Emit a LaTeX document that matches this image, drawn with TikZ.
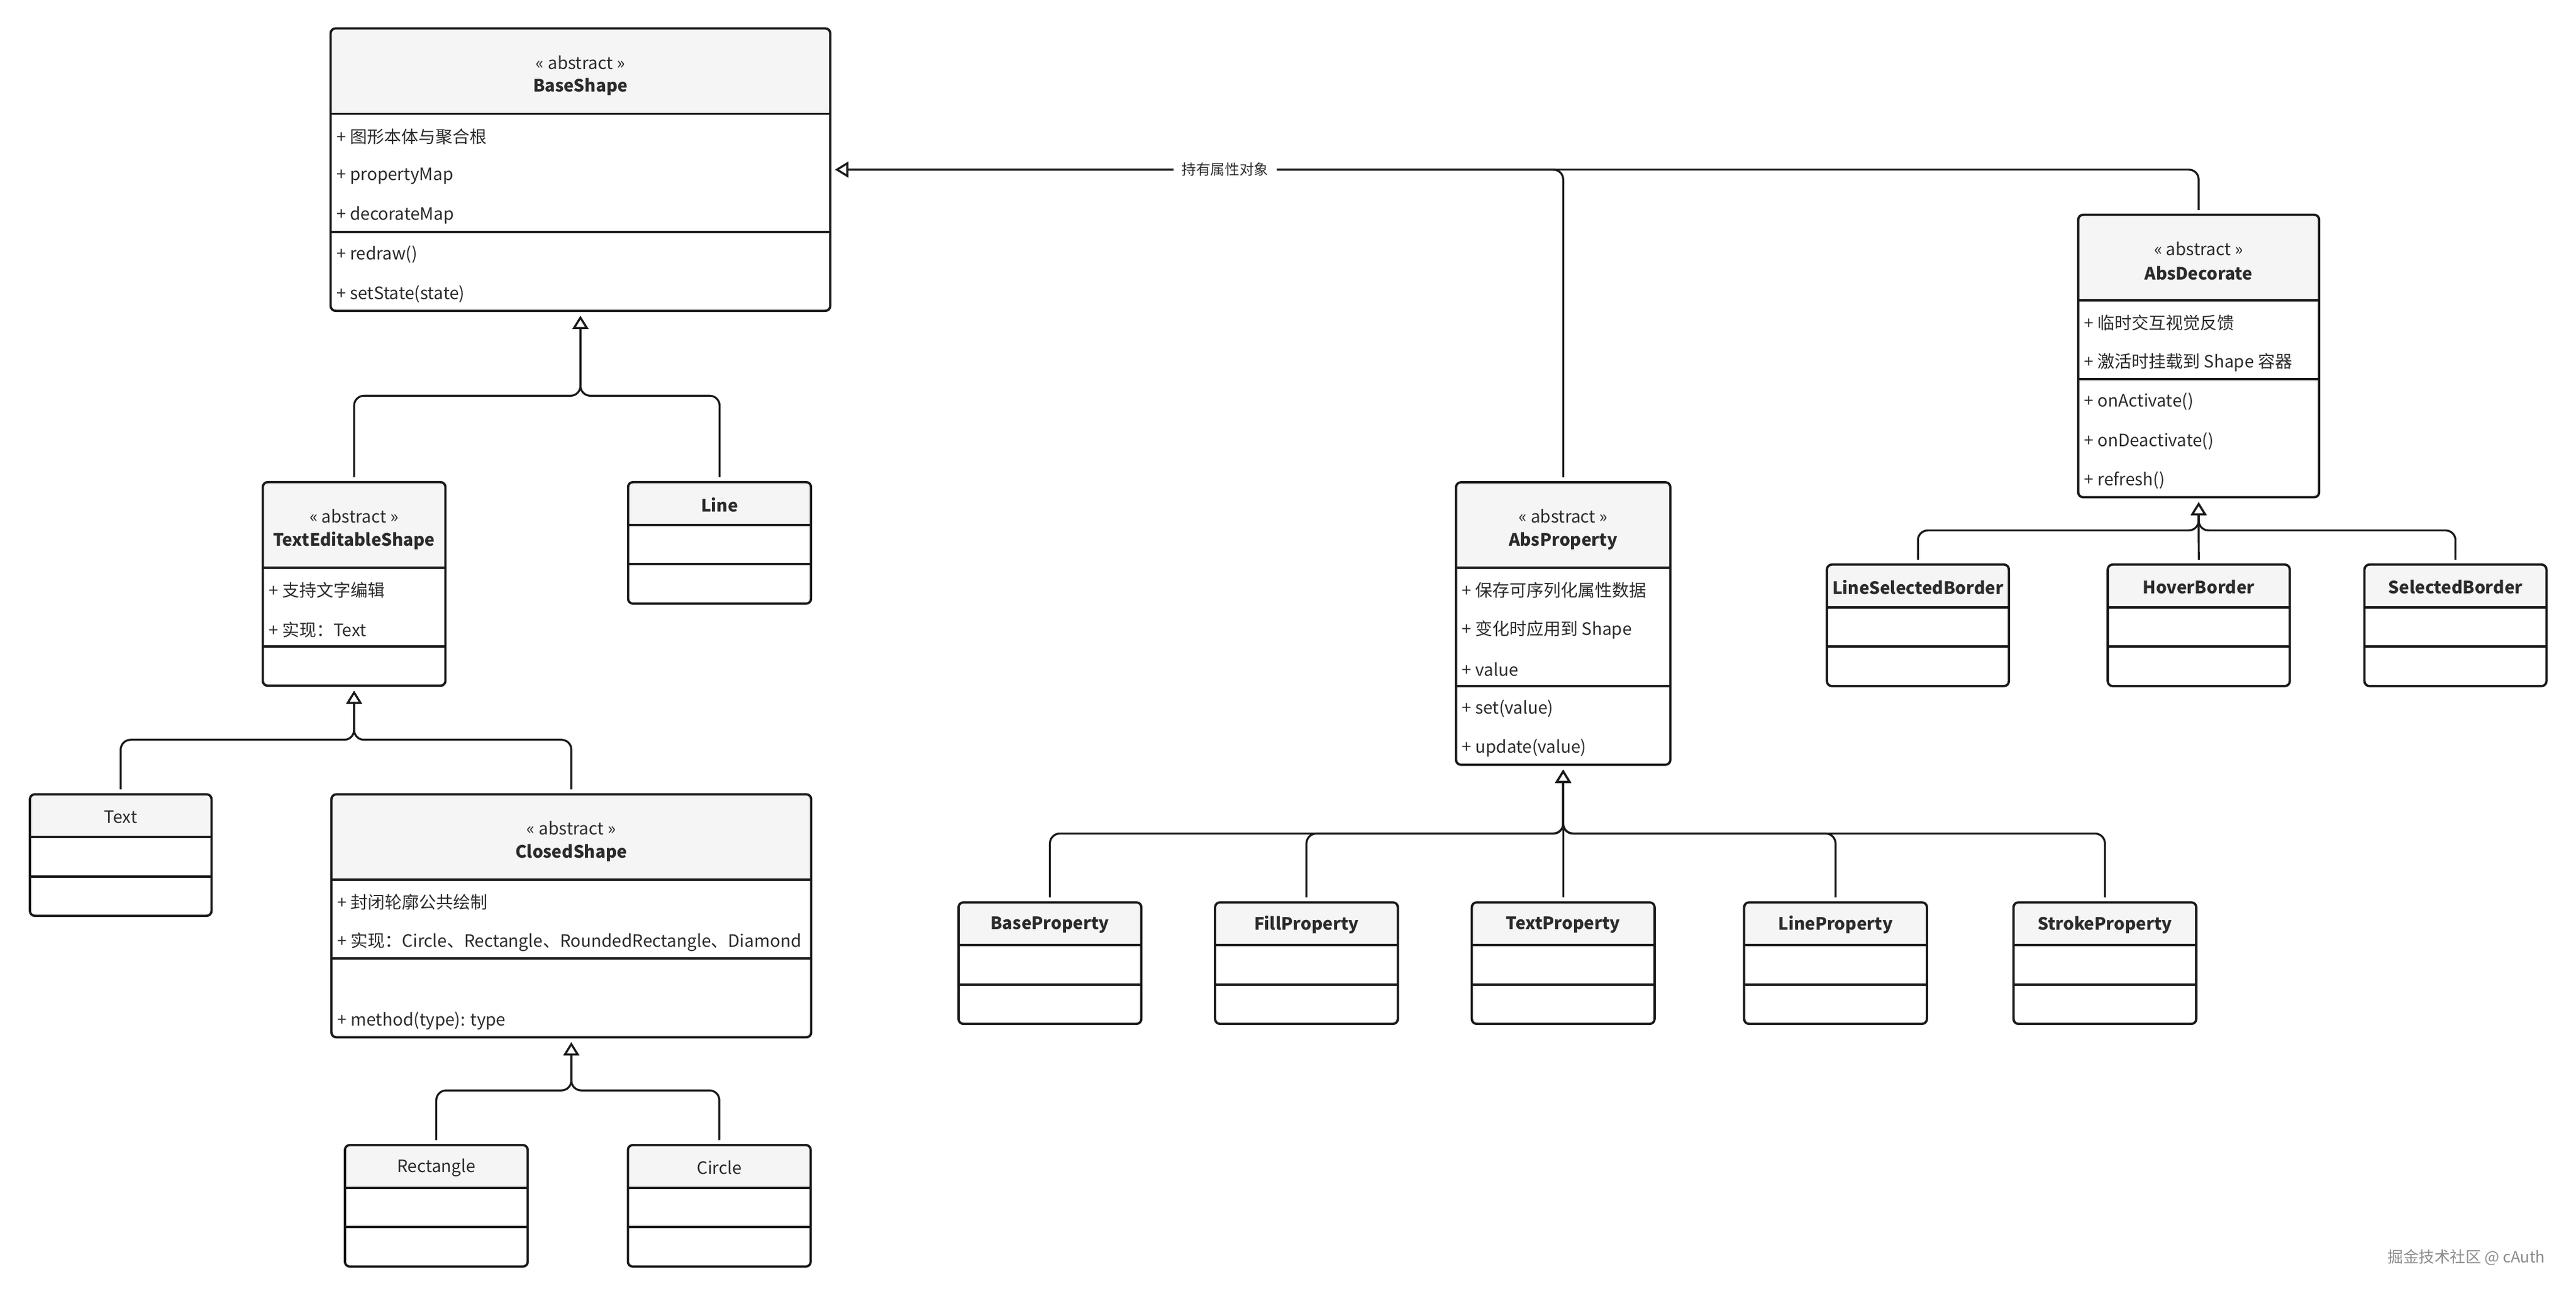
\documentclass[tikz,border=0pt]{standalone}
\usepackage{fontspec}
\setmainfont{Noto Sans CJK SC}
\usetikzlibrary{arrows.meta}

\definecolor{umlline}{HTML}{1A1A1A}
\definecolor{umltext}{HTML}{2B2B2B}
\definecolor{umlhead}{HTML}{F5F5F5}

\tikzset{
  classbox/.style={draw=umlline, line width=1.4pt, rounded corners=3pt, fill=white,
    outer sep=3pt, inner sep=0pt},
  headfill/.style={path picture={\fill[umlhead] (path picture bounding box.north west)
    rectangle ([yshift=-#1pt]path picture bounding box.north east);}},
  divider/.style={draw=umlline, line width=1.4pt},
  member/.style={anchor=west, inner sep=0pt, text=umltext, font=\fontsize{10.4}{12}\selectfont},
  stereo/.style={inner sep=0pt, text=umltext, font=\fontsize{10.4}{12}\selectfont},
  cname/.style={inner sep=0pt, text=umltext, font=\fontsize{10.4}{12}\selectfont\bfseries},
  cplain/.style={inner sep=0pt, text=umltext, font=\fontsize{10.4}{12}\selectfont},
  isa/.style={draw=umlline, line width=1.2pt, rounded corners=6pt,
    -{Triangle[open, length=8pt, width=9.5pt, fill=white]}},
  assoc/.style={isa},
  lbl/.style={fill=white, text=umltext, inner xsep=5pt, inner ysep=2pt,
    font=\fontsize{8.8}{10}\selectfont},
  wmark/.style={inner sep=0pt, text=black!45, font=\fontsize{9.5}{11}\selectfont},
}

% box: name, left, top, width, header height, second divider, height
\newcommand{\umlbox}[7]{%
  \node[classbox, headfill=#5, minimum width=#4pt, minimum height=#7pt] (#1) at (#2+#4/2, #3+#7/2) {};
  \draw[divider] (#2,#3+#5) -- ++(#4,0);
  \draw[divider] (#2,#3+#6) -- ++(#4,0);
}
% rows: prefix, left, first row, list
\newcommand{\umlrows}[4]{%
  \foreach \m [count=\i] in {#4} {\node[member] (#1\i) at (#2+3.5, #3+24*\i-24) {\m};}
}

\begin{document}
\begin{tikzpicture}[x=1pt, y=-1pt]
  \useasboundingbox (0,0) rectangle (1568.4,788.9);
  \fill[white] (0,0) rectangle (1568.4,788.9);

  % shape tree
  \umlbox{base}{201.3}{17.3}{304.2}{52}{124}{172}
  \node[stereo] (baseS) at (353.4,38) {« abstract »};
  \node[cname] (baseN) at (353.4,53) {BaseShape};
  \umlrows{baseA}{201.3}{83.1}{{+ 图形本体与聚合根}, {+ propertyMap}, {+ decorateMap}}
  \umlrows{baseO}{201.3}{155.1}{{+ redraw()}, {+ setState(state)}}

  \umlbox{txtedit}{160}{293.6}{111.2}{52}{100}{124}
  \node[stereo] (txteditS) at (215.6,314.3) {« abstract »};
  \node[cname] (txteditN) at (215.6,329.3) {TextEditableShape};
  \umlrows{txteditA}{160}{359.4}{{+ 支持文字编辑}, {+ 实现：Text}}

  \umlbox{line}{382.4}{293.6}{111.4}{26}{50}{74}
  \node[cname] (lineN) at (438.1,307.3) {Line};

  \umlbox{text}{18.2}{483.7}{110.6}{26}{50}{74}
  \node[cplain] (textN) at (73.5,497.4) {Text};

  \umlbox{closed}{201.8}{483.7}{292.1}{52}{100}{148}
  \node[stereo] (closedS) at (347.85,504.4) {« abstract »};
  \node[cname] (closedN) at (347.85,519.4) {ClosedShape};
  \umlrows{closedA}{201.8}{549.5}{{+ 封闭轮廓公共绘制}, {+ 实现：Circle、Rectangle、RoundedRectangle、Diamond}}
  \node[member] (closedO2) at (205.3,621.5) {+ method(type): type};

  \umlbox{rect}{210}{697.3}{111.3}{26}{50}{74}
  \node[cplain] (rectN) at (265.65,711) {Rectangle};
  \umlbox{circle}{382.3}{697.3}{111.3}{26}{50}{74}
  \node[cplain] (circleN) at (437.95,711) {Circle};

  % properties
  \umlbox{absprop}{886.5}{293.7}{130.5}{52}{124}{172}
  \node[stereo] (abspropS) at (951.75,314.4) {« abstract »};
  \node[cname] (abspropN) at (951.75,329.4) {AbsProperty};
  \umlrows{abspropA}{886.5}{359.5}{{+ 保存可序列化属性数据}, {+ 变化时应用到 Shape}, {+ value}}
  \umlrows{abspropO}{886.5}{431.5}{{+ set(value)}, {+ update(value)}}

  \umlbox{baseprop}{583.6}{549.5}{111.3}{26}{50}{74}
  \node[cname] (basepropN) at (639.25,563.2) {BaseProperty};
  \umlbox{fillprop}{739.8}{549.5}{111.3}{26}{50}{74}
  \node[cname] (fillpropN) at (795.45,563.2) {FillProperty};
  \umlbox{textprop}{896.1}{549.5}{111.3}{26}{50}{74}
  \node[cname] (textpropN) at (951.75,563.2) {TextProperty};
  \umlbox{lineprop}{1061.9}{549.5}{111.3}{26}{50}{74}
  \node[cname] (linepropN) at (1117.55,563.2) {LineProperty};
  \umlbox{strokeprop}{1225.9}{549.5}{111.3}{26}{50}{74}
  \node[cname] (strokepropN) at (1281.55,563.2) {StrokeProperty};

  % decorates
  \umlbox{absdeco}{1265.3}{130.8}{146.7}{52}{100}{172}
  \node[stereo] (absdecoS) at (1338.65,151.5) {« abstract »};
  \node[cname] (absdecoN) at (1338.65,166.5) {AbsDecorate};
  \umlrows{absdecoA}{1265.3}{196.6}{{+ 临时交互视觉反馈}, {+ 激活时挂载到 Shape 容器}}
  \umlrows{absdecoO}{1265.3}{244.6}{{+ onActivate()}, {+ onDeactivate()}, {+ refresh()}}

  \umlbox{lsborder}{1112.3}{343.8}{110.8}{26}{50}{74}
  \node[cname] (lsborderN) at (1167.7,357.5) {LineSelectedBorder};
  \umlbox{hoverborder}{1283.3}{343.8}{110.8}{26}{50}{74}
  \node[cname] (hoverborderN) at (1338.7,357.5) {HoverBorder};
  \umlbox{selborder}{1439.6}{343.8}{110.8}{26}{50}{74}
  \node[cname] (selborderN) at (1495,357.5) {SelectedBorder};

  % inheritance
  \path (353.4,241) coordinate (J1);
  \path (215.6,450.5) coordinate (J2);
  \path (347.85,664) coordinate (J3);
  \path (951.75,507.6) coordinate (J4);
  \path (1338.65,323) coordinate (J5);

  \draw[isa] (txtedit.north) |- (J1) -- (base.south);
  \draw[isa] (line.north) |- (J1) -- (base.south);

  \draw[isa] (text.north) |- (J2) -- (txtedit.south);
  \draw[isa] (closed.north) |- (J2) -- (txtedit.south);

  \draw[isa] (rect.north) |- (J3) -- (closed.south);
  \draw[isa] (circle.north) |- (J3) -- (closed.south);

  \draw[isa] (baseprop.north) |- (J4) -- (absprop.south);
  \draw[isa] (fillprop.north) |- (J4) -- (absprop.south);
  \draw[isa] (textprop.north) -- (absprop.south);
  \draw[isa] (lineprop.north) |- (J4) -- (absprop.south);
  \draw[isa] (strokeprop.north) |- (J4) -- (absprop.south);

  \draw[isa] (lsborder.north) |- (J5) -- (absdeco.south);
  \draw[isa] (hoverborder.north) -- (absdeco.south);
  \draw[isa] (selborder.north) |- (J5) -- (absdeco.south);

  % association
  \draw[assoc] (absprop.north) |- (base.east);
  \draw[assoc] (absdeco.north) |- node[lbl, pos=0.857] (holdlbl) {持有属性对象} (base.east);

  \node[wmark, anchor=east] (wm) at (1549.8,765.8) {掘金技术社区 @ cAuth};
\end{tikzpicture}
\end{document}
